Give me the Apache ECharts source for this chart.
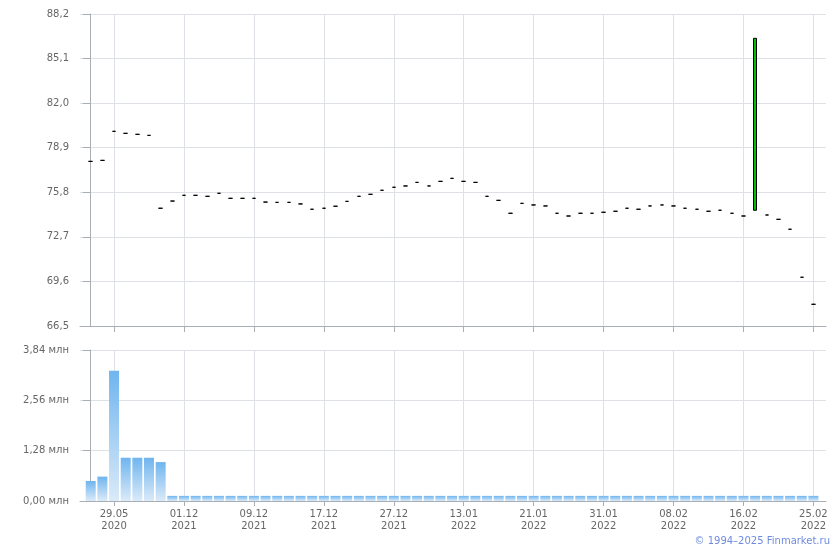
<!DOCTYPE html>
<html>
<head>
<meta charset="utf-8">
<script src="https://cdn.jsdelivr.net/npm/echarts@6/dist/echarts.min.js"></script>
<style>html,body{margin:0;padding:0;background:#fff}#c{width:840px;height:550px}</style>
</head>
<body>
<div id="c"></div>
<script>
var dates = ['27.05\n2020','28.05\n2020','29.05\n2020','01.06\n2020','02.06\n2020','03.06\n2020','04.06\n2020','30.11\n2021',
'01.12\n2021','02.12\n2021','03.12\n2021','06.12\n2021','07.12\n2021','08.12\n2021','09.12\n2021','10.12\n2021',
'13.12\n2021','14.12\n2021','15.12\n2021','16.12\n2021','17.12\n2021','20.12\n2021','21.12\n2021','22.12\n2021',
'23.12\n2021','24.12\n2021','27.12\n2021','28.12\n2021','29.12\n2021','30.12\n2021','11.01\n2022','12.01\n2022',
'13.01\n2022','14.01\n2022','17.01\n2022','18.01\n2022','19.01\n2022','20.01\n2022','21.01\n2022','24.01\n2022',
'25.01\n2022','26.01\n2022','27.01\n2022','28.01\n2022','31.01\n2022','01.02\n2022','02.02\n2022','03.02\n2022',
'04.02\n2022','07.02\n2022','08.02\n2022','09.02\n2022','10.02\n2022','11.02\n2022','14.02\n2022','15.02\n2022',
'16.02\n2022','17.02\n2022','18.02\n2022','21.02\n2022','22.02\n2022','24.02\n2022','25.02\n2022'];

var opens = [77.95,78.02,80.04,79.90,79.83,79.76,74.69,75.19,75.59,75.59,75.52,75.73,75.38,75.38,75.38,75.12,
75.10,75.10,74.99,74.62,74.69,74.83,75.17,75.52,75.66,75.94,76.15,76.24,76.49,76.24,76.56,76.77,
76.56,76.49,75.52,75.24,74.34,75.03,74.92,74.85,74.34,74.15,74.34,74.34,74.41,74.48,74.69,74.62,
74.85,74.92,74.85,74.69,74.62,74.48,74.55,74.34,74.15,74.55,74.22,73.92,73.23,69.89,68.01];

var closes = [77.95,78.02,80.04,79.90,79.83,79.76,74.69,75.19,75.59,75.59,75.52,75.73,75.38,75.38,75.38,75.12,
75.10,75.10,74.99,74.62,74.69,74.83,75.17,75.52,75.66,75.94,76.15,76.24,76.49,76.24,76.56,76.77,
76.56,76.49,75.52,75.24,74.34,75.03,74.92,74.85,74.34,74.15,74.34,74.34,74.41,74.48,74.69,74.62,
74.85,74.92,74.85,74.69,74.62,74.48,74.55,74.34,74.15,86.51,74.22,73.92,73.23,69.89,68.01];

var volumes = [0.51,0.62,3.31,1.10,1.10,1.10,0.99,0.13,0.13,0.13,0.13,0.13,0.13,0.13,0.13,0.13,
0.13,0.13,0.13,0.13,0.13,0.13,0.13,0.13,0.13,0.13,0.13,0.13,0.13,0.13,0.13,0.13,
0.13,0.13,0.13,0.13,0.13,0.13,0.13,0.13,0.13,0.13,0.13,0.13,0.13,0.13,0.13,0.13,
0.13,0.13,0.13,0.13,0.13,0.13,0.13,0.13,0.13,0.13,0.13,0.13,0.13,0.13,0.13];

var labelIdx = [2,8,14,20,26,32,38,44,50,56,62];
var priceTicks = [66.5,69.6,72.7,75.8,78.9,82.0,85.1,88.2];
var volTicks = [0,1.28,2.56,3.84];

var font = 'DejaVu Sans';
var gridColor = '#dde1e5';
var axisColor = '#a9aeb4';
var textColor = '#666666';

var candles = opens.map(function (o, i) {
  var c = closes[i];
  return [i, o, c, Math.min(o, c), Math.max(o, c)];
});
var bars = volumes.map(function (v, i) { return [i, v]; });

function xAxisCfg(gridIndex, showLabels) {
  return {
    type: 'value', gridIndex: gridIndex, min: -0.92, max: 63.08,
    axisLine: { show: true, onZero: false, lineStyle: { color: axisColor, width: 1 } },
    axisTick: { show: true, length: showLabels ? 5 : 6, customValues: labelIdx, lineStyle: { color: axisColor } },
    axisLabel: {
      show: showLabels, customValues: labelIdx, margin: 7,
      fontFamily: font, fontSize: 10, color: textColor, lineHeight: 12,
      formatter: function (v) { return dates[Math.round(v)] || ''; }
    },
    splitLine: { show: true, lineStyle: { color: gridColor, width: 1 } }
  };
}

var chart = echarts.init(document.getElementById('c'), null, { renderer: 'canvas' });
chart.setOption({
  animation: false,
  backgroundColor: '#ffffff',
  grid: [
    { left: 80, top: 14, width: 746, height: 312 },
    { left: 80, top: 350, width: 746, height: 151 }
  ],
  xAxis: [xAxisCfg(0, false), xAxisCfg(1, true)],
  yAxis: [
    {
      type: 'value', gridIndex: 0, min: 66.5, max: 88.2,
      axisLine: { show: true, lineStyle: { color: axisColor } },
      axisTick: { show: true, length: 8, customValues: priceTicks, lineStyle: { color: axisColor } },
      axisLabel: {
        customValues: priceTicks, margin: 11, fontFamily: font, fontSize: 10, color: textColor,
        formatter: function (v) { return v.toFixed(1).replace('.', ','); }
      },
      splitLine: { show: true, lineStyle: { color: gridColor } }
    },
    {
      type: 'value', gridIndex: 1, min: 0, max: 3.84,
      axisLine: { show: true, lineStyle: { color: axisColor } },
      axisTick: { show: true, length: 8, customValues: volTicks, lineStyle: { color: axisColor } },
      axisLabel: {
        customValues: volTicks, margin: 11, fontFamily: font, fontSize: 10, color: textColor,
        formatter: function (v) { return v.toFixed(2).replace('.', ',') + ' млн'; }
      },
      splitLine: { show: true, lineStyle: { color: gridColor } }
    }
  ],
  series: [
    {
      type: 'candlestick', xAxisIndex: 0, yAxisIndex: 0,
      barWidth: 4,
      encode: { x: 0, y: [1, 2, 3, 4] },
      itemStyle: {
        color: '#00c000', color0: '#00c000',
        borderColor: '#000000', borderColor0: '#000000', borderColorDoji: '#000000',
        borderWidth: 1
      },
      data: candles
    },
    {
      type: 'bar', xAxisIndex: 1, yAxisIndex: 1,
      barWidth: 10,
      itemStyle: {
        color: new echarts.graphic.LinearGradient(0, 0, 0, 1, [
          { offset: 0, color: '#6fb5ef' },
          { offset: 1, color: '#dbeaf8' }
        ])
      },
      data: bars
    }
  ],
  graphic: [
    {
      type: 'text', right: 10, top: 536,
      style: { text: '© 1994–2025 Finmarket.ru', fill: '#6f8be0', font: '10px "DejaVu Sans"' }
    }
  ]
});
</script>
</body>
</html>
